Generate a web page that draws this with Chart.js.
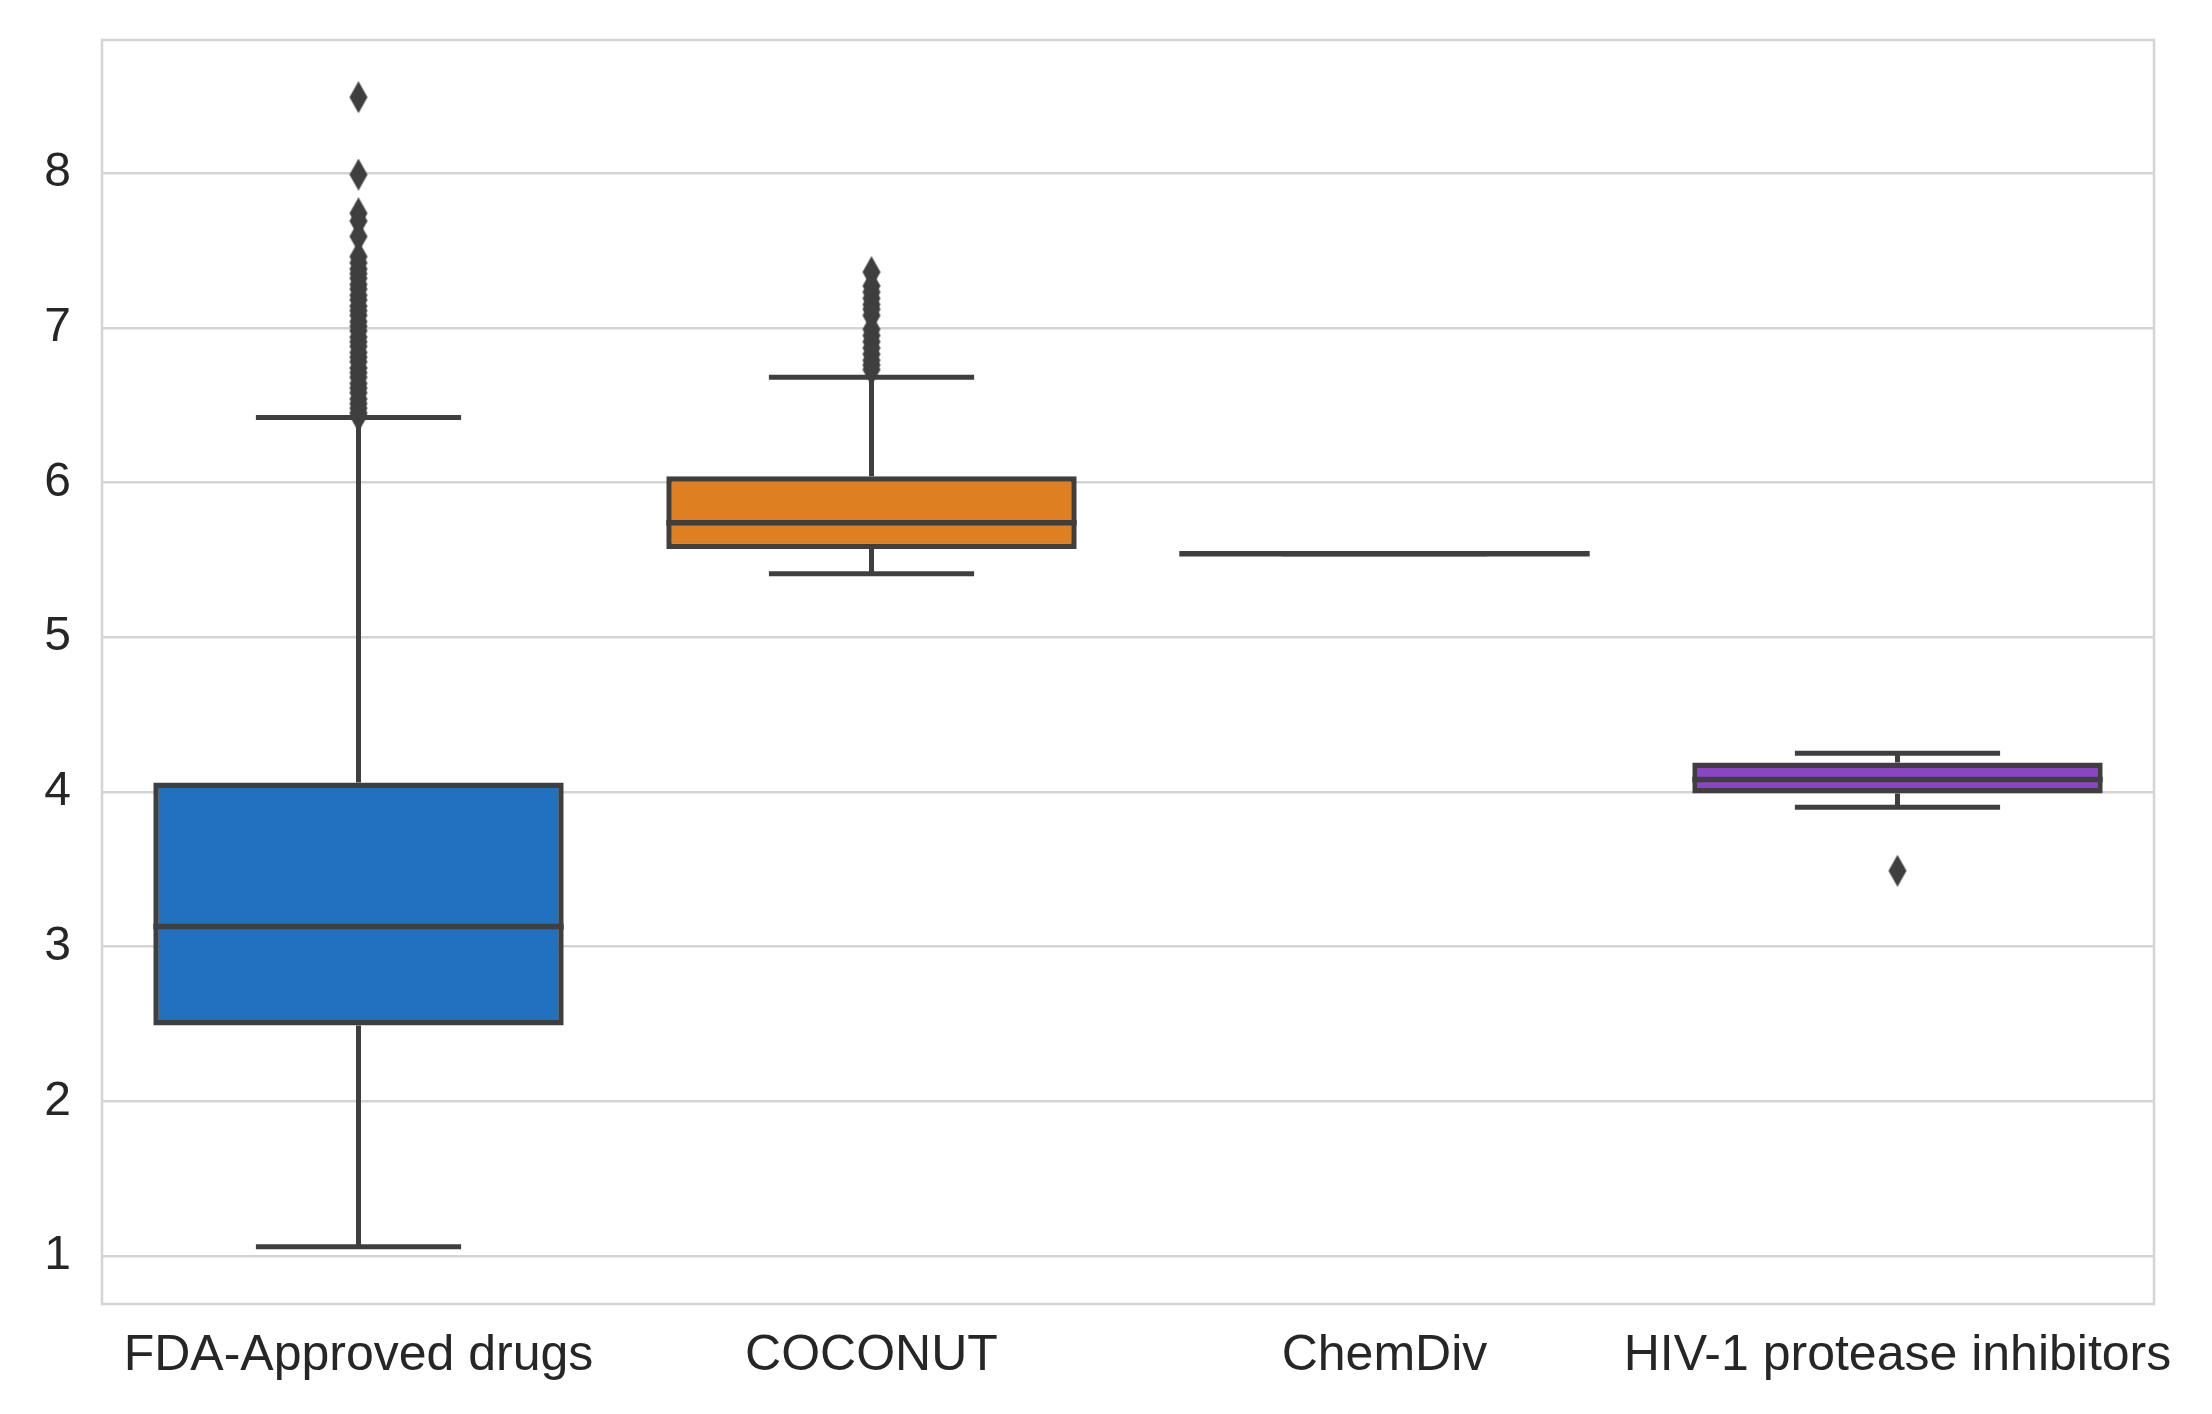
<!DOCTYPE html>
<html>
<head>
<meta charset="utf-8">
<script src="https://cdn.jsdelivr.net/npm/chart.js@4.4.1/dist/chart.umd.min.js"></script>
<style>
  html, body { margin: 0; padding: 0; background: #ffffff; }
  #wrap { width: 2212px; height: 1414px; position: relative; }
</style>
</head>
<body>
<div id="wrap"><canvas id="c"></canvas></div>
<script>
// ---- data ----
const categories = ["FDA-Approved drugs", "COCONUT", "ChemDiv", "HIV-1 protease inhibitors"];
const whiskerLow  = [1.06, 5.41, 5.54, 3.90];
const q1          = [2.49, 5.57, 5.54, 3.99];
const median      = [3.13, 5.74, 5.54, 4.08];
const q3          = [4.06, 6.04, 5.54, 4.19];
const whiskerHigh = [6.42, 6.68, 5.54, 4.25];
const fdaOutliers = [8.49, 7.99, 7.74, 7.69, 7.59, 7.46, 7.42, 7.38, 7.35, 7.32, 7.28, 7.25, 7.21, 7.18,
  7.14, 7.11, 7.08, 7.04, 7.01, 6.98, 6.94, 6.91, 6.88, 6.84, 6.81, 6.78, 6.74, 6.71, 6.68, 6.64,
  6.61, 6.58, 6.54, 6.51, 6.48, 6.45, 6.43];
const coconutOutliers = [7.36, 7.27, 7.23, 7.19, 7.15, 7.12, 7.08, 6.99, 6.95, 6.91, 6.87, 6.83, 6.79, 6.76, 6.73];
const chemdivOutliers = [];
const hivOutliers = [3.49];
const yTicks = [1, 2, 3, 4, 5, 6, 7, 8];
const yMin = 0.69, yMax = 8.86;

// ---- styles ----
const boxColors = ["#2171c0", "#de7f22", "#3aa14c", "#8b45c4"];
const lineColor = "#3f3f3f";
const gridColor = "#d4d4d4";
const textColor = "#262626";
const fontFamily = "'Liberation Sans', Arial, sans-serif";

// thin diamond marker
const diamond = document.createElement("canvas");
diamond.width = 20; diamond.height = 32;
(function () {
  const g = diamond.getContext("2d");
  g.fillStyle = lineColor;
  g.beginPath();
  g.moveTo(10, 0); g.lineTo(19, 16); g.lineTo(10, 32); g.lineTo(1, 16); g.closePath();
  g.fill();
})();

const outlierSets = [fdaOutliers, coconutOutliers, chemdivOutliers, hivOutliers];
const outlierPoints = [];
outlierSets.forEach((arr, i) => arr.forEach(v => outlierPoints.push({ x: categories[i], y: v })));

// plugin: frame, whiskers, caps, medians drawn via chart scales
const boxLines = {
  id: "boxLines",
  beforeDatasetsDraw(chart) {
    const { ctx, chartArea: a } = chart;
    ctx.save();
    ctx.strokeStyle = gridColor;
    ctx.lineWidth = 2.5;
    ctx.strokeRect(a.left, a.top, a.right - a.left, a.bottom - a.top);
    ctx.restore();
  },
  afterDatasetsDraw(chart) {
    const { ctx } = chart;
    const xs = chart.scales.x, ys = chart.scales.y;
    const meta = chart.getDatasetMeta(0);
    ctx.save();
    ctx.strokeStyle = lineColor;
    ctx.lineCap = "butt";
    categories.forEach((c, i) => {
      const cx = xs.getPixelForValue(i);
      const bw = meta.data[i].width;
      const capHalf = bw / 4;
      const yl = ys.getPixelForValue(whiskerLow[i]);
      const y1 = ys.getPixelForValue(q1[i]);
      const y3 = ys.getPixelForValue(q3[i]);
      const yh = ys.getPixelForValue(whiskerHigh[i]);
      const ym = ys.getPixelForValue(median[i]);
      ctx.lineWidth = 5;
      ctx.beginPath();
      ctx.moveTo(cx, y1); ctx.lineTo(cx, yl);
      ctx.moveTo(cx, y3); ctx.lineTo(cx, yh);
      ctx.moveTo(cx - capHalf, yl); ctx.lineTo(cx + capHalf, yl);
      ctx.moveTo(cx - capHalf, yh); ctx.lineTo(cx + capHalf, yh);
      ctx.stroke();
      ctx.lineWidth = 5.5;
      ctx.beginPath();
      ctx.moveTo(cx - bw / 2, ym); ctx.lineTo(cx + bw / 2, ym);
      ctx.stroke();
    });
    ctx.restore();
  }
};

new Chart(document.getElementById("c"), {
  data: {
    labels: categories,
    datasets: [
      {
        type: "bar",
        data: categories.map((_, i) => [q1[i], q3[i]]),
        backgroundColor: boxColors,
        borderColor: lineColor,
        borderWidth: 5.5,
        borderSkipped: false,
        categoryPercentage: 0.8,
        barPercentage: 1.0,
        grouped: false,
        order: 2
      },
      {
        type: "line",
        data: outlierPoints,
        showLine: false,
        pointStyle: diamond,
        pointRadius: 10,
        order: 1
      }
    ]
  },
  options: {
    responsive: true,
    maintainAspectRatio: false,
    devicePixelRatio: 1,
    animation: false,
    layout: { padding: { top: 40, right: 58, left: 0, bottom: 0 } },
    plugins: { legend: { display: false }, tooltip: { enabled: false } },
    scales: {
      x: {
        type: "category",
        offset: true,
        grid: { display: false, drawTicks: false },
        border: { display: false },
        ticks: {
          color: textColor, font: { family: fontFamily, size: 50 },
          padding: 22, maxRotation: 0, minRotation: 0, autoSkip: false
        },
        afterFit(s) { s.height = 110; s.paddingLeft = 0; s.paddingRight = 0; }
      },
      y: {
        type: "linear",
        min: yMin, max: yMax,
        grid: { color: gridColor, lineWidth: 2.5, drawTicks: false },
        border: { display: false },
        ticks: { color: textColor, font: { family: fontFamily, size: 48 }, padding: 31 },
        afterBuildTicks(s) { s.ticks = yTicks.map(v => ({ value: v })); },
        afterFit(s) { s.width = 102; s.paddingTop = 0; s.paddingBottom = 0; }
      }
    }
  },
  plugins: [boxLines]
});
</script>
</body>
</html>
